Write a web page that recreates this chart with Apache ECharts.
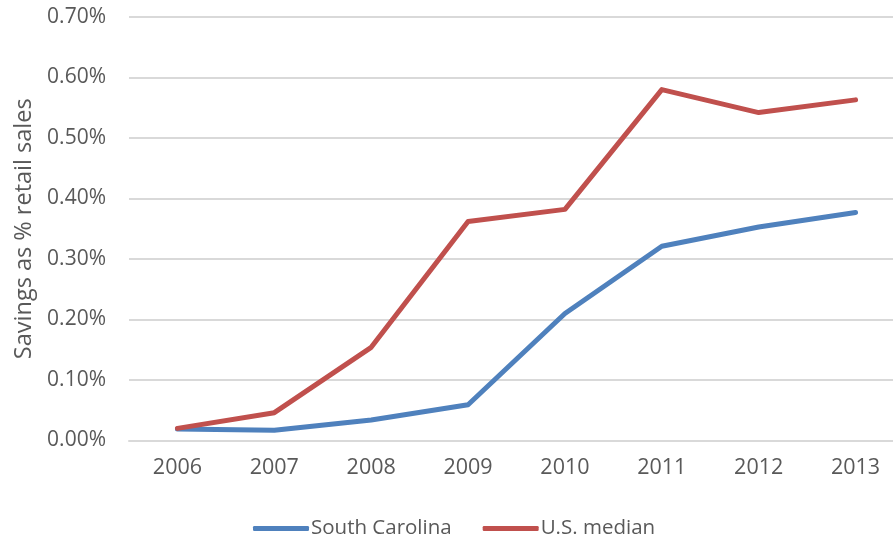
<!DOCTYPE html>
<html>
<head>
<meta charset="utf-8">
<script src="https://cdn.jsdelivr.net/npm/echarts@6/dist/echarts.min.js"></script>
<style>
  html, body { margin: 0; padding: 0; background: #fff; }
  #chart { width: 893px; height: 538px; }
</style>
</head>
<body>
<div id="chart"></div>
<script>
// Savings as a share of retail sales, 2006–2013
const years = ['2006', '2007', '2008', '2009', '2010', '2011', '2012', '2013'];
const southCarolina = [0.019, 0.017, 0.034, 0.059, 0.210, 0.321, 0.353, 0.377];
const usMedian = [0.020, 0.046, 0.154, 0.362, 0.382, 0.580, 0.542, 0.563];

const FONT = '"Open Sans", "Noto Sans", sans-serif';
const TEXT = '#595959';
const GRID = '#d9d9d9';

const chart = echarts.init(document.getElementById('chart'), null, { renderer: 'canvas' });

chart.setOption({
  animation: false,
  backgroundColor: '#ffffff',
  textStyle: { fontFamily: FONT, color: TEXT },
  // plot area runs slightly past the right edge of the canvas
  grid: {
    left: 129, width: 775, top: 17, height: 423.5,
    containLabel: false, outerBoundsMode: 'none'
  },
  legend: {
    top: 513,
    left: 248,
    itemWidth: 56,
    itemHeight: 5,
    itemGap: 31,
    icon: 'roundRect',
    textStyle: { fontFamily: FONT, fontSize: 20.5, color: TEXT, padding: [0, 0, 0, -3] },
    data: ['South Carolina', 'U.S. median']
  },
  xAxis: {
    type: 'category',
    data: years,
    boundaryGap: true,
    axisLine: { lineStyle: { color: GRID, width: 2 } },
    axisTick: { show: false },
    axisLabel: { fontFamily: FONT, fontSize: 21.5, color: TEXT, margin: 16 }
  },
  yAxis: {
    type: 'value',
    min: 0,
    max: 0.7,
    interval: 0.1,
    name: 'Savings as % retail sales',
    nameLocation: 'middle',
    nameGap: 93,
    nameTextStyle: { fontFamily: FONT, fontSize: 23.5, color: TEXT },
    axisLine: { show: false },
    axisTick: { show: false },
    splitLine: { lineStyle: { color: GRID, width: 2 } },
    axisLabel: {
      fontFamily: FONT, fontSize: 21, color: TEXT, margin: 23,
      formatter: v => v.toFixed(2) + '%'
    }
  },
  series: [
    {
      name: 'South Carolina',
      type: 'line',
      data: southCarolina,
      symbol: 'none',
      lineStyle: { color: '#4f81bd', width: 5, cap: 'round', join: 'round' },
      itemStyle: { color: '#4f81bd' }
    },
    {
      name: 'U.S. median',
      type: 'line',
      data: usMedian,
      symbol: 'none',
      lineStyle: { color: '#c0504d', width: 5, cap: 'round', join: 'round' },
      itemStyle: { color: '#c0504d' }
    }
  ]
});
</script>
</body>
</html>
